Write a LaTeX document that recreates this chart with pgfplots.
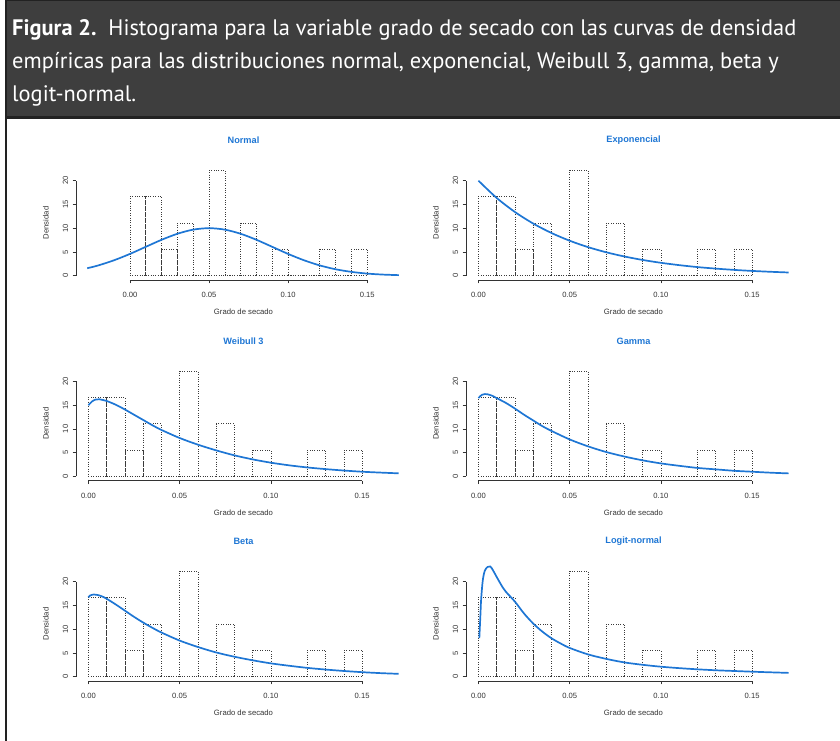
\documentclass[border=0pt]{standalone}
\usepackage{fontspec}
\setmainfont{Liberation Sans}
\newfontfamily\hdr{PT Sans}
\usepackage{pgfplots}
\pgfplotsset{compat=1.18}
\definecolor{hdrgray}{HTML}{3E3E3E}
\definecolor{hdrborder}{HTML}{222222}
\definecolor{curveblue}{RGB}{30,118,212}
\definecolor{axgray}{HTML}{333333}
\definecolor{bargray}{HTML}{3A3A3A}
\newcommand{\tlfont}{\fontsize{7.6}{9}\selectfont}
\pgfplotsset{
  panel/.style={
    scale only axis, width=335pt, height=114pt,
    ymin=-0.888, ymax=23.11, clip=false,
    axis x line*=bottom, axis y line*=left,
    axis line style={draw=none},
    tick align=outside, major tick length=3.5pt,
    tick style={draw=axgray, line width=0.6pt},
    ytick={0,5,10,15,20},
    xtick={0,0.05,0.1,0.15}, xticklabels={0.00,0.05,0.10,0.15},
    /pgf/number format/assume math mode=true,
    tick label style={font=\tlfont, text=axgray},
    xticklabel style={font=\tlfont, anchor=north, inner sep=0pt},
    yticklabel style={font=\tlfont, rotate=90, anchor=south, inner sep=0pt},
    xticklabel shift=8.5pt, yticklabel shift=4pt,
    xlabel={Grado de secado}, ylabel={Densidad},
    label style={font=\fontsize{7.7}{9}\selectfont, text=axgray},
    xlabel style={at={(axis description cs:0.5,-0.281)}, anchor=center},
    ylabel style={at={(axis description cs:-0.0896,0.5)}, anchor=center, rotate=0},
    title style={at={(axis description cs:0.5,1.170)}, anchor=center,
      font=\fontsize{9.2}{11}\selectfont\bfseries, text=curveblue},
  },
  hist/.style={ybar interval, draw=bargray, fill=none, line width=0.6pt,
    dash pattern=on 0.6pt off 1.8pt},
  dens/.style={curveblue, line width=1.7pt, smooth, no marks},
}
\pgfplotstableread{
x y
0.00 16.67
0.01 16.67
0.02 5.56
0.03 11.11
0.04 0
0.05 22.22
0.06 0
0.07 11.11
0.08 0
0.09 5.56
0.10 0
0.11 0
0.12 5.56
0.13 0
0.14 5.56
0.15 0
}\histtab
\newcommand{\axlines}[1]{%
  \draw[axgray, line width=0.7pt] (axis cs:0,-0.888) -- (axis cs:0.15,-0.888);
  \draw[axgray, line width=0.7pt] (axis cs:#1,0) -- (axis cs:#1,20);}
\begin{document}
\begin{tikzpicture}
\useasboundingbox (0pt,0pt) rectangle (840pt,741pt);
% header
\fill[hdrgray] (5pt,623pt) rectangle (840pt,741pt);
\fill[hdrborder] (5pt,622pt) rectangle (840pt,624.5pt);
\fill[hdrborder] (5pt,739.5pt) rectangle (840pt,741pt);
\fill[hdrborder] (5pt,0pt) rectangle (7.2pt,741pt);
\begin{scope}[every node/.style={anchor=base west, inner sep=0pt, text=white, font=\hdr\fontsize{22.4}{30}\selectfont}]
\node at (12pt,705pt) {\textbf{Figura 2.}\ \ Histograma para la variable grado de secado con las curvas de densidad};
\node at (12pt,672pt) {empíricas para las distribuciones normal, exponencial, Weibull 3, gamma, beta y};
\node at (12pt,639pt) {logit-normal.};
\end{scope}

% Normal
\begin{axis}[panel, at={(76pt,461.1pt)}, anchor=south west, xmin=-0.0341, xmax=0.1777, title={Normal}]
\addplot[hist] table {\histtab};
\addplot[dens] coordinates {(-0.027,1.57) (-0.02,2.16) (-0.01,3.25) (0,4.58) (0.01,6.07) (0.02,7.55) (0.03,8.82) (0.04,9.69) (0.05,10.0) (0.06,9.69) (0.07,8.82) (0.08,7.55) (0.09,6.07) (0.10,4.58) (0.11,3.25) (0.12,2.16) (0.13,1.35) (0.14,0.80) (0.15,0.44) (0.16,0.23) (0.17,0.11)};
\axlines{-0.0341}
\end{axis}

% Exponencial
\begin{axis}[panel, at={(466pt,461.1pt)}, anchor=south west, xmin=-0.0068, xmax=0.1768, title={Exponencial}]
\addplot[hist] table {\histtab};
\addplot[dens] coordinates {(0,20) (0.01,16.37) (0.02,13.41) (0.03,10.98) (0.04,8.99) (0.05,7.36) (0.06,6.02) (0.07,4.93) (0.08,4.04) (0.09,3.31) (0.10,2.71) (0.11,2.22) (0.12,1.81) (0.13,1.49) (0.14,1.22) (0.15,1.00) (0.16,0.82) (0.17,0.67)};
\axlines{-0.0068}
\end{axis}

% Weibull 3
\begin{axis}[panel, at={(76pt,260.3pt)}, anchor=south west, xmin=-0.0068, xmax=0.1768, title={Weibull 3}]
\addplot[hist] table {\histtab};
\addplot[dens] coordinates {(0.000,15.0) (0.002,15.8) (0.004,16.2) (0.006,16.25) (0.008,16.1) (0.010,15.9) (0.015,15.1) (0.020,14.1) (0.025,13.0) (0.030,11.9) (0.035,10.8) (0.040,9.8) (0.050,8.1) (0.060,6.7) (0.070,5.5) (0.080,4.45) (0.090,3.6) (0.100,2.9) (0.110,2.35) (0.120,1.9) (0.130,1.55) (0.140,1.25) (0.150,1.0) (0.160,0.82) (0.170,0.66)};
\axlines{-0.0068}
\end{axis}

% Gamma
\begin{axis}[panel, at={(466pt,260.3pt)}, anchor=south west, xmin=-0.0068, xmax=0.1768, title={Gamma}]
\addplot[hist] table {\histtab};
\addplot[dens] coordinates {(0.000,16.5) (0.001,16.9) (0.002,17.2) (0.0035,17.35) (0.005,17.3) (0.0075,17.0) (0.010,16.5) (0.015,15.5) (0.020,14.3) (0.025,13.0) (0.030,11.8) (0.035,10.6) (0.040,9.6) (0.050,7.8) (0.060,6.35) (0.070,5.15) (0.080,4.2) (0.090,3.4) (0.100,2.75) (0.110,2.25) (0.120,1.8) (0.130,1.5) (0.140,1.2) (0.150,1.0) (0.160,0.8) (0.170,0.65)};
\axlines{-0.0068}
\end{axis}

% Beta
\begin{axis}[panel, at={(76pt,60.1pt)}, anchor=south west, xmin=-0.0068, xmax=0.1768, title={Beta}]
\addplot[hist] table {\histtab};
\addplot[dens] coordinates {(0.000,16.7) (0.001,17.1) (0.003,17.3) (0.005,17.2) (0.0075,16.9) (0.010,16.4) (0.015,15.2) (0.020,13.9) (0.025,12.6) (0.030,11.4) (0.035,10.3) (0.040,9.3) (0.050,7.6) (0.060,6.25) (0.070,5.1) (0.080,4.2) (0.090,3.45) (0.100,2.8) (0.110,2.3) (0.120,1.85) (0.130,1.5) (0.140,1.2) (0.150,0.95) (0.160,0.75) (0.170,0.6)};
\axlines{-0.0068}
\end{axis}

% Logit-normal
\begin{axis}[panel, at={(466pt,60.1pt)}, anchor=south west, xmin=-0.0068, xmax=0.1768, title={Logit-normal}]
\addplot[hist] table {\histtab};
\addplot[dens] coordinates {(0.0005,8.1) (0.0011,13.0) (0.0015,16.3) (0.0024,20.3) (0.0035,22.3) (0.005,23.1) (0.0065,23.2) (0.008,22.4) (0.010,21.0) (0.0133,18.8) (0.015,17.9) (0.020,15.8) (0.025,13.3) (0.030,11.2) (0.035,9.5) (0.040,8.1) (0.045,7.0) (0.050,6.05) (0.060,4.7) (0.070,3.75) (0.080,3.0) (0.090,2.5) (0.100,2.1) (0.110,1.8) (0.120,1.55) (0.130,1.35) (0.140,1.2) (0.150,1.05) (0.160,0.92) (0.170,0.8)};
\axlines{-0.0068}
\end{axis}
\end{tikzpicture}
\end{document}
